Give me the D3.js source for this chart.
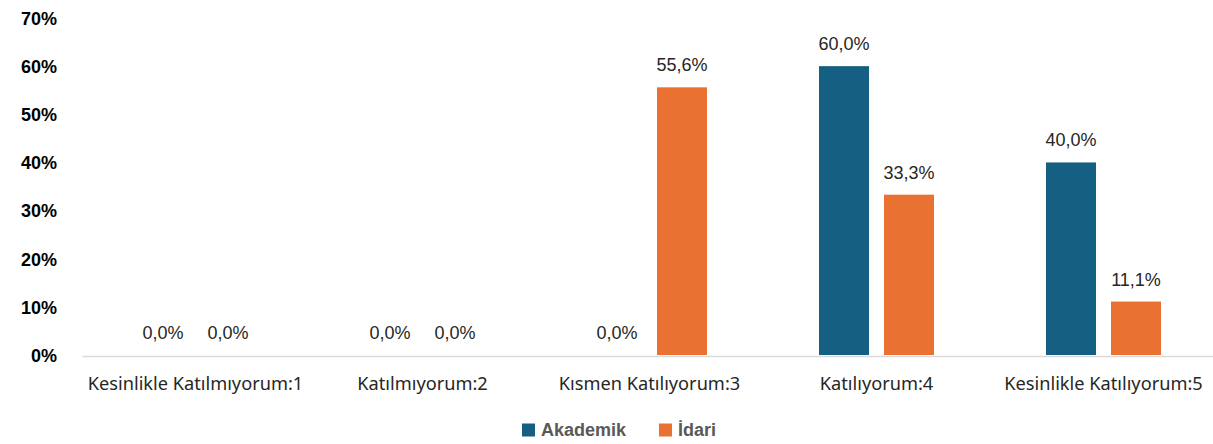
<!DOCTYPE html>
<html>
<head>
<meta charset="utf-8">
<script src="https://cdn.jsdelivr.net/npm/d3@7"></script>
<style>
  body { margin: 0; background: #fff; }
  svg { display: block; }
</style>
</head>
<body>
<div id="chart"></div>
<script>
const categories = ["Kesinlikle Katılmıyorum:1", "Katılmıyorum:2", "Kısmen Katılıyorum:3", "Katılıyorum:4", "Kesinlikle Katılıyorum:5"];
const seriesNames = ["Akademik", "İdari"];
const akademik = [0, 0, 0, 60.0, 40.0];
const idari = [0, 0, 55.6, 33.3, 11.1];
const yTicks = [0, 10, 20, 30, 40, 50, 60, 70];
const colors = ["#156082", "#e97132"];

const W = 1213, H = 444;
const margin = { top: 18, right: -4, bottom: 89, left: 82 };

const svg = d3.select("#chart").append("svg")
    .attr("width", W)
    .attr("height", H);

const x = d3.scaleBand()
    .domain(categories)
    .range([margin.left, W - margin.right]);

const xInner = d3.scaleBand()
    .domain(seriesNames)
    .range([0, 115])
    .paddingInner(15 / 65);

const y = d3.scaleLinear()
    .domain([0, 70])
    .range([H - margin.bottom, margin.top]);

const rows = categories.map((c, i) => ({ cat: c, values: [akademik[i], idari[i]] }));

// y axis labels only
const yAxis = d3.axisLeft(y).tickValues(yTicks).tickFormat(d => d + "%").tickSize(0).tickPadding(0);
svg.append("g")
    .attr("transform", "translate(57,0)")
    .call(yAxis)
    .call(g => g.select(".domain").remove())
    .selectAll("text")
    .attr("font-family", "Liberation Sans, Arial, sans-serif")
    .attr("font-size", 18)
    .attr("font-weight", "bold")
    .attr("fill", "#000")
    .attr("dy", "0.35em");

// bars
const groups = svg.selectAll(".grp").data(rows).join("g")
    .attr("class", "grp")
    .attr("transform", d => `translate(${x(d.cat) + (x.bandwidth() - 115) / 2},0)`);

groups.selectAll("rect")
    .data(d => d.values.map((v, j) => ({ name: seriesNames[j], v })))
    .join("rect")
    .attr("x", d => xInner(d.name))
    .attr("width", xInner.bandwidth())
    .attr("y", d => y(d.v))
    .attr("height", d => y(0) - y(d.v))
    .attr("fill", (d, j) => colors[j]);

// value labels (no label for the empty İdari bar in cat 3)
groups.selectAll("text.val")
    .data(d => d.values.map((v, j) => ({ name: seriesNames[j], v, cat: d.cat })))
    .join("text")
    .attr("class", "val")
    .filter(d => !(d.cat === "Kısmen Katılıyorum:3" && d.name === "İdari" && d.v === 0))
    .attr("x", d => xInner(d.name) + xInner.bandwidth() / 2)
    .attr("y", d => y(d.v) - 16)
    .attr("text-anchor", "middle")
    .attr("font-family", "Liberation Sans, Arial, sans-serif")
    .attr("font-size", 18)
    .attr("fill", "#262626")
    .text(d => d.v.toFixed(1).replace(".", ",") + "%");

// x axis
const xAxis = d3.axisBottom(x).tickSize(0).tickPadding(21);
svg.append("g")
    .attr("transform", `translate(0,${y(0) + 1})`)
    .call(xAxis)
    .call(g => g.select(".domain").attr("stroke", "#d9d9d9").attr("stroke-width", 1.5))
    .selectAll("text")
    .attr("font-family", "Noto Sans, sans-serif")
    .attr("font-size", 18.2)
    .attr("fill", "#262626");

// legend
const legend = svg.append("g").attr("transform", "translate(522,430)");
const legendX = [0, 137];
seriesNames.forEach((s, i) => {
    const g = legend.append("g").attr("transform", `translate(${legendX[i]},0)`);
    g.append("rect").attr("x", 0).attr("y", -6.5).attr("width", 13).attr("height", 13).attr("fill", colors[i]);
    g.append("text")
        .attr("x", 19)
        .attr("dy", "0.35em")
        .attr("font-family", "Liberation Sans, Arial, sans-serif")
        .attr("font-size", 18)
        .attr("font-weight", "bold")
        .attr("fill", "#595959")
        .text(s);
});
</script>
</body>
</html>
